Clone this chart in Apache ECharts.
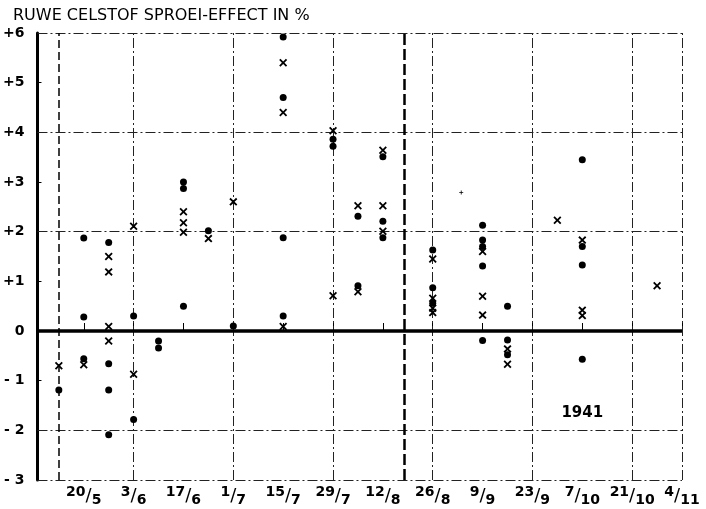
<!DOCTYPE html>
<html>
<head>
<meta charset="utf-8">
<script src="https://cdn.jsdelivr.net/npm/echarts@6/dist/echarts.min.js"></script>
<style>
  html, body { margin: 0; padding: 0; background: #fff; }
  #sproeiChart { width: 706px; height: 509px; }
</style>
</head>
<body>
<div id="sproeiChart"></div>
<script>
// days counted from 20/5
const labelDays = [0, 14, 28, 42, 56, 70, 84, 98, 112, 126, 140, 154, 168]
const labelTexts = [['20', '5'], ['3', '6'], ['17', '6'], ['1', '7'], ['15', '7'], ['29', '7'], ['12', '8'],
  ['26', '8'], ['9', '9'], ['23', '9'], ['7', '10'], ['21', '10'], ['4', '11']]
const gridDays = [14, 42, 70, 98, 126, 154, 168]
const gridValues = [6, 4, 2, -2, -3]
const dashedDays = [-7, 90]

const dotPoints = [
  [-7, -1.19],
  [0, 1.87], [0, 0.28], [0, -0.56],
  [7, 1.78], [7, -0.66], [7, -1.19], [7, -2.09],
  [14, 0.30], [14, -1.78],
  [21, -0.20], [21, -0.34],
  [28, 3.00], [28, 2.87], [28, 0.50],
  [35, 2.02],
  [42, 0.10],
  [56, 5.92], [56, 4.70], [56, 1.88], [56, 0.30],
  [70, 3.86], [70, 3.72],
  [77, 2.31], [77, 0.91],
  [84, 3.51], [84, 2.21], [84, 1.88],
  [98, 1.63], [98, 0.87], [98, 0.56],
  [112, 2.13], [112, 1.83], [112, 1.70], [112, 1.31], [112, -0.19],
  [119, 0.50], [119, -0.18], [119, -0.48],
  [140, 3.45], [140, 1.70], [140, 1.33], [140, -0.57]
]
const crossPoints = [
  [-7, -0.70],
  [0, -0.68],
  [7, 1.50], [7, 1.19], [7, 0.09], [7, -0.20],
  [14, 2.11], [14, -0.87],
  [28, 2.40], [28, 2.18], [28, 1.99],
  [35, 1.86],
  [42, 2.60],
  [56, 5.40], [56, 4.40], [56, 0.09],
  [70, 4.03], [70, 0.71],
  [77, 2.52], [77, 0.79],
  [84, 3.64], [84, 2.52], [84, 2.01],
  [98, 1.45], [98, 0.66], [98, 0.46], [98, 0.37],
  [112, 1.60], [112, 0.70], [112, 0.32],
  [119, -0.36], [119, -0.67],
  [133, 2.23],
  [140, 1.83], [140, 0.42], [140, 0.31],
  [161, 0.91]
]
const strayPoints = [[106, 2.79]]
const yearNote = [[140, -1.65, '1941']]

const crossPath = 'path://M0,1.6 L1.6,0 L5,3.4 L8.4,0 L10,1.6 L6.6,5 L10,8.4 L8.4,10 L5,6.6 L1.6,10 L0,8.4 L3.4,5 Z'
const ink = '#000'

function drawChart() {
  const chart = echarts.init(document.getElementById('sproeiChart'))

  const gridLines = []
  gridDays.forEach(d => gridLines.push({ xAxis: d }))
  gridValues.forEach(v => gridLines.push({ yAxis: v }))

  chart.setOption({
    animation: false,
    title: {
      text: 'RUWE CELSTOF SPROEI-EFFECT IN %',
      left: 8,
      top: 3,
      textStyle: { fontFamily: 'DejaVu Sans', fontSize: 16, fontWeight: 'normal', color: ink }
    },
    grid: { left: 36, right: 24, top: 33, bottom: 29 },
    xAxis: {
      type: 'value',
      min: -13,
      max: 168,
      axisLine: { show: false },
      splitLine: { show: false },
      axisTick: {
        show: true,
        inside: true,
        length: 8,
        customValues: labelDays,
        lineStyle: { color: ink, width: 1 }
      },
      axisLabel: {
        customValues: labelDays,
        margin: 5,
        formatter: function(val) {
          const i = labelDays.indexOf(val)
          if (i < 0) return ''
          return '{a|' + labelTexts[i][0] + '}{s|/}{b|' + labelTexts[i][1] + '}'
        },
        rich: {
          a: { fontFamily: 'DejaVu Sans', fontSize: 14, fontWeight: 'bold', color: ink, verticalAlign: 'top', lineHeight: 14 },
          s: { fontFamily: 'DejaVu Sans', fontSize: 18, color: ink, lineHeight: 22 },
          b: { fontFamily: 'DejaVu Sans', fontSize: 14, fontWeight: 'bold', color: ink, verticalAlign: 'bottom', lineHeight: 14 }
        }
      }
    },
    yAxis: {
      type: 'value',
      min: -3,
      max: 6,
      interval: 1,
      axisLine: { show: true, onZero: false, lineStyle: { color: ink, width: 3 } },
      axisTick: { show: true, inside: true, length: 4, lineStyle: { color: ink } },
      splitLine: { show: false },
      axisLabel: {
        margin: 13,
        fontFamily: 'DejaVu Sans',
        fontSize: 14,
        fontWeight: 'bold',
        color: ink,
        formatter: function(v) {
          if (v > 0) return '+' + v
          if (v < 0) return '- ' + (-v)
          return '0'
        }
      }
    },
    series: [
      {
        name: 'grid',
        type: 'line',
        data: [],
        silent: true,
        markLine: {
          silent: true,
          symbol: 'none',
          label: { show: false },
          lineStyle: { color: '#222', width: 1, type: [10, 3, 2, 3] },
          data: gridLines
        }
      },
      {
        name: 'dashed',
        type: 'line',
        data: [],
        silent: true,
        markLine: {
          silent: true,
          symbol: 'none',
          label: { show: false },
          data: [
            { xAxis: dashedDays[0], lineStyle: { color: ink, width: 1.5, type: [8, 4] } },
            { xAxis: dashedDays[1], lineStyle: { color: ink, width: 2.5, type: [11, 4] } }
          ]
        }
      },
      {
        name: 'zero',
        type: 'line',
        data: [],
        silent: true,
        markLine: {
          silent: true,
          symbol: 'none',
          label: { show: false },
          lineStyle: { color: ink, width: 3.5, type: 'solid' },
          data: [{ yAxis: 0 }]
        }
      },
      {
        name: 'dots',
        type: 'scatter',
        symbol: 'circle',
        symbolSize: 7,
        itemStyle: { color: ink, opacity: 1 },
        data: dotPoints,
        z: 5
      },
      {
        name: 'crosses',
        type: 'scatter',
        symbol: crossPath,
        symbolSize: 8,
        itemStyle: { color: ink, opacity: 1 },
        data: crossPoints,
        z: 5
      },
      {
        name: 'stray',
        type: 'scatter',
        symbol: 'path://M4,0 L6,0 L6,4 L10,4 L10,6 L6,6 L6,10 L4,10 L4,6 L0,6 L0,4 L4,4 Z',
        symbolSize: 4,
        itemStyle: { color: ink, opacity: 1 },
        data: strayPoints
      },
      {
        name: 'year',
        type: 'scatter',
        symbolSize: 0,
        data: yearNote,
        itemStyle: { opacity: 1 },
        label: {
          show: true,
          position: 'inside',
          formatter: p => p.data[2],
          fontFamily: 'DejaVu Sans',
          fontSize: 15,
          fontWeight: 'bold',
          color: ink
        }
      }
    ]
  })
}

drawChart()
</script>
</body>
</html>
